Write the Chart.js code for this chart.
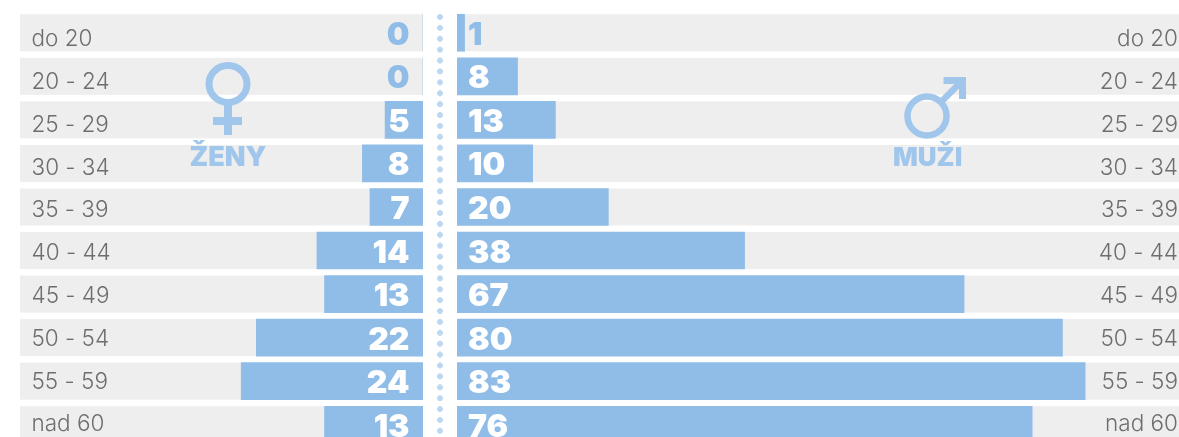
<!DOCTYPE html>
<html><head><meta charset="utf-8">
<script src="https://cdn.jsdelivr.net/npm/chart.js@4"></script>
<style>
html,body{margin:0;padding:0;background:#fff;overflow:hidden;width:1179px;height:437px}
#stage{position:relative;width:1179px;height:437px;overflow:hidden}
.c{position:absolute;top:10.7px;height:435.5px}
.c canvas{display:block}
#cl{left:20px;width:403px}
#cr{left:457px;width:722px}
#dots{position:absolute;left:437px;top:14px;width:6px;height:423px;background:radial-gradient(circle at 3px 3px,#bcd7f2 2.7px,transparent 3.1px) 0 0/6px 10.9px repeat-y}
svg{position:absolute;left:0;top:0}
.t{position:absolute;font:900 27px Inter,sans-serif;color:#a1c6eb;line-height:30px;white-space:nowrap}
</style></head><body>
<div id="stage">
<div class="c" id="cl"><canvas id="left"></canvas></div>
<div class="c" id="cr"><canvas id="right"></canvas></div>
<div id="dots"></div>
<svg width="1179" height="437" fill="none" stroke="#a1c6eb">
<ellipse cx="228" cy="84" rx="19" ry="18.5" stroke-width="7"/>
<path d="M228 105V135M213 121H242" stroke-width="8"/>
<circle cx="927" cy="116" r="19.5" stroke-width="6.5"/>
<path d="M941 102L962 81" stroke-width="6.5"/>
<path d="M943.5 80.5H962.5V99" stroke-width="7"/>
</svg>
<div class="t" style="left:189.5px;top:142px">ŽENY</div>
<div class="t" style="left:893px;top:142px;font-size:26px">MUŽI</div>
</div>
<script>
const categories=["do 20","20 - 24","25 - 29","30 - 34","35 - 39","40 - 44","45 - 49","50 - 54","55 - 59","nad 60"];
const zeny=[0,0,5,8,7,14,13,22,24,13];
const muzi=[1,8,13,10,20,38,67,80,83,76];
const BAR="#8fbde8",TRACK="#eeeeee",TXT="#6e6e6e";
const valuePlugin=isLeft=>({id:"rows",
 beforeDatasetsDraw(ch){const y=ch.scales.y,a=ch.chartArea,c=ch.ctx;c.save();c.fillStyle=TRACK;
  categories.forEach((_,i)=>c.fillRect(a.left,y.getPixelForValue(i)-18.5,a.right-a.left,37));c.restore();},
 afterDatasetsDraw(ch){const y=ch.scales.y,c=ch.ctx,d=ch.data.datasets[0].data;c.save();
  c.textBaseline="alphabetic";
  c.font="300 22.5px Inter, sans-serif";c.fillStyle=TXT;c.textAlign=isLeft?"left":"right";
  categories.forEach((t,i)=>c.fillText(t,isLeft?11.5:721,y.getPixelForValue(i)+13.5-0.75*i));
  c.font="900 32px Inter, sans-serif";c.textAlign=isLeft?"right":"left";
  d.forEach((v,i)=>{c.fillStyle=v<=1?BAR:"#ffffff";
   c.fillText(String(v),isLeft?389.5:11,y.getPixelForValue(i)+12);});c.restore();}
});
function make(id,data,max,isLeft){
 new Chart(document.getElementById(id),{type:"bar",
  data:{labels:categories,datasets:[{data,backgroundColor:BAR,barThickness:37,borderWidth:0}]},
  plugins:[valuePlugin(isLeft)],
  options:{indexAxis:"y",responsive:true,maintainAspectRatio:false,animation:false,
   layout:{padding:0},
   plugins:{legend:{display:false},tooltip:{enabled:false},title:{display:false}},
   scales:{
    x:{display:false,min:0,max,reverse:isLeft},
    y:{display:false,offset:true}
   }}});
}
make("left",zeny,53.2,true);
make("right",muzi,95.4,false);
</script>
</body></html>
